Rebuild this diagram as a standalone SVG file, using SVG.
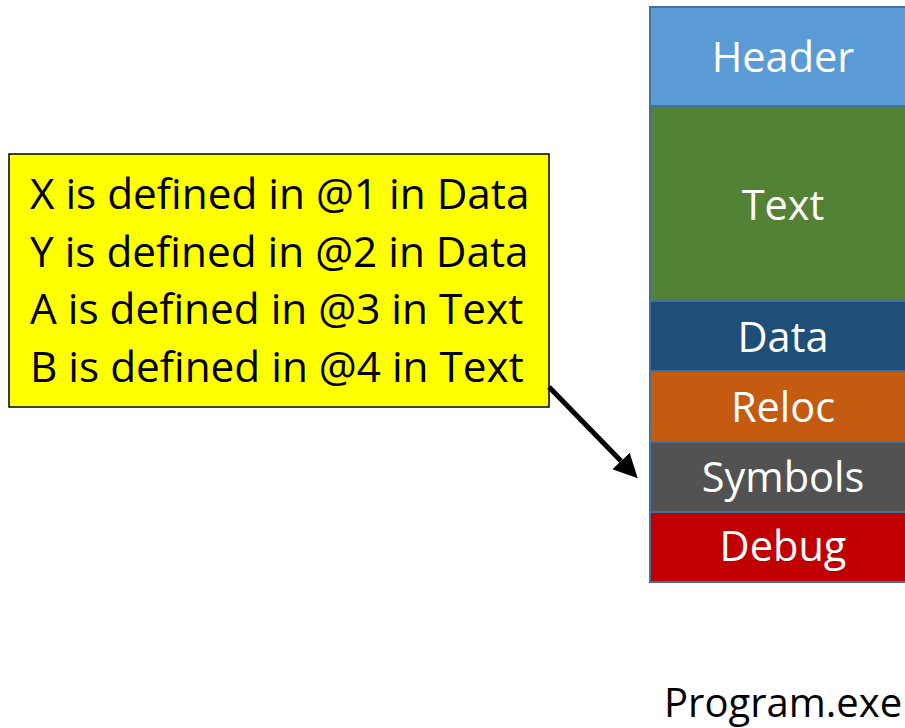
<svg xmlns="http://www.w3.org/2000/svg" width="905" height="728" viewBox="0 0 905 728">
  <defs>
    <style>
      .sec { stroke: #41719C; stroke-width: 2; }
      .lbl { font-family: "Open Sans", "Liberation Sans", sans-serif; font-size: 41.5px; fill: #FFFFFF; text-anchor: middle; }
      .note { font-family: "Open Sans", "Liberation Sans", sans-serif; font-size: 42.3px; fill: #000000; }
      .cap { font-family: "Open Sans", "Liberation Sans", sans-serif; font-size: 40px; fill: #000000; }
    </style>
    <marker id="head" markerUnits="userSpaceOnUse" viewBox="0 0 24 24" refX="0" refY="12" markerWidth="24" markerHeight="24" orient="auto">
      <path d="M0,0 L24,12 L0,24 Z" fill="#000000"/>
    </marker>
  </defs>

  <rect width="905" height="728" fill="#FFFFFF"/>

  <!-- executable sections, top to bottom -->
  <g id="header">
    <rect class="sec" x="650" y="7" width="270" height="99" fill="#5B9BD5"/>
    <text class="lbl" x="783" y="72">Header</text>
  </g>
  <g id="text">
    <rect class="sec" x="650" y="106" width="270" height="195" fill="#548235"/>
    <text class="lbl" x="783" y="220">Text</text>
  </g>
  <g id="data">
    <rect class="sec" x="650" y="301" width="270" height="70" fill="#1F4E79"/>
    <text class="lbl" x="783" y="352">Data</text>
  </g>
  <g id="reloc">
    <rect class="sec" x="650" y="371" width="270" height="71" fill="#C55A11"/>
    <text class="lbl" x="783" y="422">Reloc</text>
  </g>
  <g id="symbols">
    <rect class="sec" x="650" y="442" width="270" height="70" fill="#525252"/>
    <text class="lbl" x="783" y="492">Symbols</text>
  </g>
  <g id="debug">
    <rect class="sec" x="650" y="512" width="270" height="70" fill="#C00000"/>
    <text class="lbl" x="783" y="561">Debug</text>
  </g>

  <g id="program-name">
    <text class="cap" x="664" y="717">Program.exe</text>
  </g>

  <!-- symbol table contents -->
  <g id="symbol-note">
    <rect x="9" y="154" width="540" height="253" fill="#FFFF00" stroke="#000000" stroke-width="1.5"/>
    <text class="note" x="30" y="209">X is defined in @1 in Data</text>
    <text class="note" x="30" y="267">Y is defined in @2 in Data</text>
    <text class="note" x="30" y="324">A is defined in @3 in Text</text>
    <text class="note" x="30" y="382">B is defined in @4 in Text</text>
  </g>

  <g id="connectors">
    <line x1="549" y1="387" x2="621" y2="461" stroke="#000000" stroke-width="5" marker-end="url(#head)"/>
  </g>
</svg>
